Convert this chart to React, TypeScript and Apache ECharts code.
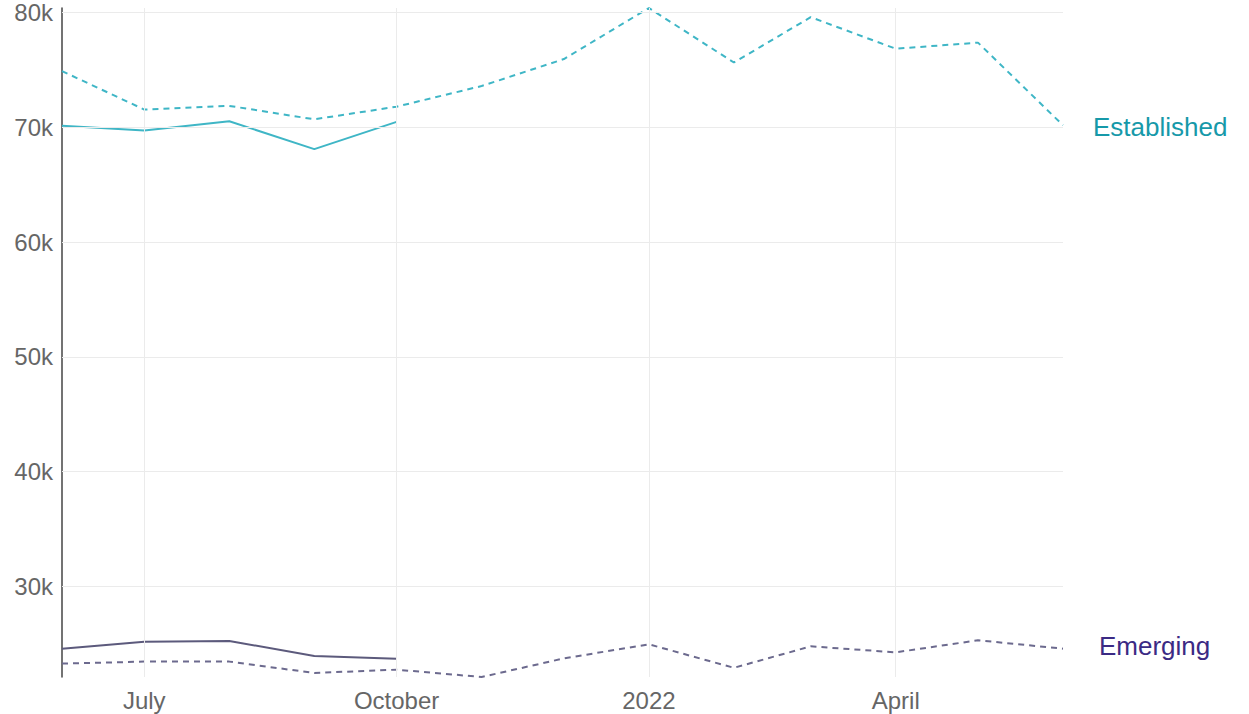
import React, { useEffect, useRef } from "react";
import * as echarts from "echarts";

const months = [
  "2021-06-01", "2021-07-01", "2021-08-01", "2021-09-01", "2021-10-01", "2021-11-01",
  "2021-12-01", "2022-01-01", "2022-02-01", "2022-03-01", "2022-04-01", "2022-05-01", "2022-06-01",
];
const establishedActual = [70130, 69720, 70530, 68100, 70480];
const establishedForecast = [74900, 71550, 71870, 70700, 71800, 73600, 75950, 80400, 75650, 79600, 76850, 77380, 70180];
const emergingActual = [24570, 25180, 25240, 23930, 23700];
const emergingForecast = [23270, 23440, 23440, 22450, 22740, 22100, 23720, 24950, 22900, 24770, 24250, 25300, 24570];
const yGridValues = [30000, 40000, 50000, 60000, 70000, 80000];
const xTickDates = ["2021-07-01", "2021-10-01", "2022-01-01", "2022-04-01"];
const xTickLabels = ["July", "October", "2022", "April"];

const FONT = "'Liberation Sans', Arial, sans-serif";

function ts(s: string) {
  const [y, m, d] = s.split("-").map(Number);
  return new Date(y, m - 1, d).getTime();
}
function pairs(vals: number[]) {
  return vals.map((v, i) => [ts(months[i]), v]);
}

export default function App() {
  const ref = useRef<HTMLDivElement>(null);
  useEffect(() => {
    if (!ref.current) return;
    const chart = echarts.init(ref.current, undefined, { renderer: "svg" });
    const estColor = "#3fb6c6";
    const emColor = "#6c6a8e";
    chart.setOption({
      animation: false,
      grid: { left: 62, right: 186, top: 8, bottom: 37, containLabel: false },
      xAxis: {
        type: "time",
        min: ts(months[0]),
        max: ts(months[months.length - 1]),
        axisLine: { show: false },
        axisTick: { show: false },
        splitLine: { show: false },
        axisLabel: { show: false },
      },
      yAxis: {
        type: "value",
        min: 22100,
        max: 80400,
        axisLine: { show: true, lineStyle: { color: "#444", width: 1.5 } },
        axisTick: { show: false },
        splitLine: { show: false },
        axisLabel: {
          color: "#666",
          fontSize: 24,
          fontFamily: FONT,
          margin: 9,
          showMinLabel: false,
          showMaxLabel: false,
          formatter: (v: number) => (v % 10000 === 0 ? v / 1000 + "k" : ""),
        },
      },
      series: [
        {
          name: "grid",
          type: "line",
          data: [],
          silent: true,
          markLine: {
            silent: true,
            symbol: "none",
            lineStyle: { color: "#ebebeb", type: "solid", width: 1 },
            data: [
              ...yGridValues.map((v) => ({ yAxis: v, label: { show: false } })),
              ...xTickDates.map((d, i) => ({
                xAxis: ts(d),
                label: {
                  show: true,
                  position: "start",
                  formatter: xTickLabels[i],
                  color: "#666",
                  fontSize: 24,
                  fontFamily: FONT,
                  distance: 11,
                },
              })),
            ],
          },
        },
        {
          name: "Established forecast",
          type: "line",
          data: pairs(establishedForecast),
          showSymbol: false,
          lineStyle: { color: estColor, width: 2, type: [6, 5] },
          itemStyle: { color: estColor },
          endLabel: {
            show: true,
            formatter: "Established",
            color: "#1699a9",
            fontSize: 26,
            fontFamily: FONT,
            distance: 30,
            offset: [0, 2],
          },
          z: 3,
        },
        {
          name: "Established",
          type: "line",
          data: pairs(establishedActual),
          showSymbol: false,
          lineStyle: { color: estColor, width: 2 },
          itemStyle: { color: estColor },
          z: 4,
        },
        {
          name: "Emerging forecast",
          type: "line",
          data: pairs(emergingForecast),
          showSymbol: false,
          lineStyle: { color: emColor, width: 2, type: [6, 5] },
          itemStyle: { color: emColor },
          endLabel: {
            show: true,
            formatter: "Emerging",
            color: "#3b2a84",
            fontSize: 26,
            fontFamily: FONT,
            distance: 36,
            offset: [0, -3],
          },
          z: 3,
        },
        {
          name: "Emerging",
          type: "line",
          data: pairs(emergingActual),
          showSymbol: false,
          lineStyle: { color: "#5c5a7c", width: 2 },
          itemStyle: { color: "#5c5a7c" },
          z: 4,
        },
      ],
    });
    return () => chart.dispose();
  }, []);
  return (
    <div
      ref={ref}
      style={{ position: "fixed", left: 0, top: 0, width: 1249, height: 714, background: "#fff" }}
    />
  );
}
